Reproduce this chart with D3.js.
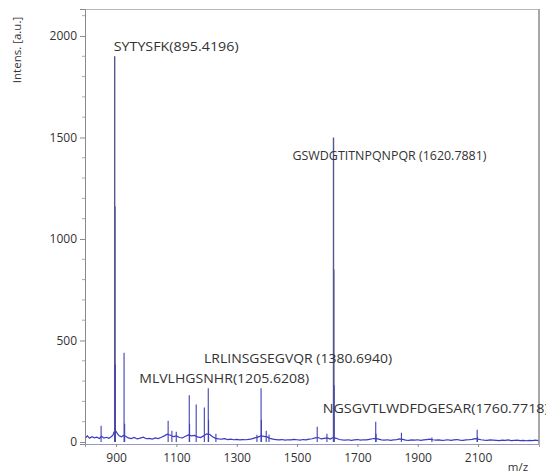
<!DOCTYPE html>
<html>
<head>
<meta charset="utf-8">
<script src="https://cdn.jsdelivr.net/npm/d3@7"></script>
<style>
  html, body { margin: 0; padding: 0; background: #fff; }
  svg { display: block; }
  text { font-family: "Open Sans", "Liberation Sans", sans-serif; fill: #333; }
</style>
</head>
<body>
<svg id="chart" width="546" height="476"></svg>
<script>
// MALDI-TOF spectrum: baseline trace and peak sticks (m/z vs intensity)
const baseMz = [800,805,812,820,828,836,845,852,860,868,876,884,890,893,900,905,910,918,924,932,940,950,960,970,980,990,
  1000,1010,1020,1030,1040,1050,1060,1070,1080,1090,1100,1110,1120,1130,1140,1150,1160,1170,1180,1190,1200,1210,1220,1230,1240,
  1250,1260,1270,1280,1290,1300,1310,1320,1330,1340,1350,1360,1370,1380,1390,1400,1410,1420,1430,1440,1450,1460,1470,1480,1490,
  1500,1510,1520,1530,1540,1550,1560,1570,1580,1590,1600,1610,1620,1630,1640,1650,1660,1670,1680,1690,1700,1710,1720,1730,1740,
  1750,1760,1770,1780,1790,1800,1810,1820,1830,1840,1850,1860,1870,1880,1890,1900,1910,1920,1930,1940,1950,1960,1970,1980,1990,
  2000,2010,2020,2030,2040,2050,2060,2070,2080,2090,2100,2110,2120,2130,2140,2150,2160,2170,2180,2190,2200,2210,2220,2230,2240,
  2250,2260,2270,2280,2290,2300];
const baseInt = [22,30,18,26,20,24,17,28,19,23,18,26,35,48,52,40,30,25,32,28,20,17,22,15,19,24,
  16,18,14,20,17,23,30,38,33,26,30,22,20,28,35,30,32,25,22,30,40,38,26,18,15,
  14,16,12,14,11,13,10,12,11,13,15,20,24,30,28,25,18,14,12,10,12,9,11,10,13,
  11,9,12,10,14,16,20,22,15,18,20,14,22,18,12,10,9,11,8,10,12,9,11,10,13,
  16,18,14,10,9,11,8,10,12,15,13,9,8,10,9,11,8,10,12,14,11,9,10,8,9,
  11,8,10,12,9,8,10,11,13,16,14,11,9,8,10,9,8,7,9,8,10,7,8,9,7,
  8,6,8,7,9,7];

// Peak centroids (m/z) and their intensities
const peakMz  = [850.4, 895.42, 896.42, 897.42, 926.5, 928.5, 1072.6, 1085.0, 1099.5, 1142.6, 1143.6, 1165.6,
  1192.6, 1205.62, 1206.62, 1231.0, 1367.0, 1380.69, 1381.69, 1397.7, 1407.0, 1566.8, 1599.0,
  1620.79, 1621.79, 1622.79, 1760.77, 1761.8, 1845.9, 1947.0, 2097.0, 2098.0];
const peakInt = [80, 1900, 1160, 380, 440, 90, 105, 55, 50, 230, 90, 185,
  170, 265, 110, 40, 35, 265, 110, 55, 35, 75, 40,
  1500, 850, 280, 100, 40, 45, 22, 60, 25];

// Annotated peptides
const annoText = ["SYTYSFK(895.4196)", "GSWDGTITNPQNPQR (1620.7881)", "LRLINSGSEGVQR (1380.6940)",
  "MLVLHGSNHR(1205.6208)", "NGSGVTLWDFDGESAR(1760.7718)"];
const annoMz  = [895.42, 1620.79, 1380.69, 1205.62, 1760.77];
const annoInt = [1930, 1395, 395, 295, 150];

const yTicks = [0, 500, 1000, 1500, 2000];
const xTicks = [900, 1100, 1300, 1500, 1700, 1900, 2100];

(function draw() {
  const svg = d3.select("#chart");
  const mLeft = 85, mRight = 539, mTop = 9, mBottom = 444;

  const x = d3.scaleLinear().domain([797, 2302]).range([mLeft, mRight]);
  const y = d3.scaleLinear().domain([-10, 2133]).range([mBottom, mTop]);

  // frame
  svg.append("line").attr("x1", mLeft).attr("x2", mRight).attr("y1", mTop + 0.5).attr("y2", mTop + 0.5)
    .attr("stroke", "#b8b8b8").attr("stroke-width", 1.2);
  svg.append("line").attr("x1", mRight).attr("x2", mRight).attr("y1", mTop).attr("y2", mBottom)
    .attr("stroke", "#a8a8a8").attr("stroke-width", 2);

  // y axis
  const yAxis = d3.axisLeft(y).tickValues(yTicks).tickSize(5).tickPadding(3).tickFormat(d3.format("d"));
  const gy = svg.append("g").attr("transform", `translate(${mLeft},0)`).call(yAxis);
  gy.select(".domain").attr("stroke", "#8a8a8a");
  gy.selectAll(".tick line").attr("stroke", "#8a8a8a");
  gy.selectAll(".tick text").style("font-size", "12px").style("font-family", "Open Sans, sans-serif").attr("fill", "#333");
  const yMinor = d3.range(0, 2101, 100).filter(v => v % 500 !== 0);
  svg.append("g").selectAll("line").data(yMinor).join("line")
    .attr("x1", mLeft - 3).attr("x2", mLeft).attr("y1", d => y(d)).attr("y2", d => y(d))
    .attr("stroke", "#aaa");

  // x axis
  const xAxis = d3.axisBottom(x).tickValues(xTicks).tickSize(3).tickPadding(6).tickFormat(d3.format("d"));
  const gx = svg.append("g").attr("transform", `translate(0,${mBottom})`).call(xAxis);
  gx.select(".domain").attr("stroke", "#9a9ac0");
  gx.selectAll(".tick line").attr("stroke", "#8a8a8a");
  gx.selectAll(".tick text").style("font-size", "12px").style("font-family", "Open Sans, sans-serif").attr("fill", "#333");

  // axis titles
  svg.append("text").attr("transform", "translate(21,50) rotate(-90)").attr("text-anchor", "middle")
    .style("font-size", "11.5px").text("Intens. [a.u.]");
  svg.append("text").attr("x", 518).attr("y", 471).attr("text-anchor", "middle")
    .style("font-size", "11.5px").text("m/z");

  // baseline trace
  const base = baseMz.map((m, i) => [m, baseInt[i]]);
  svg.append("path").datum(base)
    .attr("d", d3.line().x(d => x(d[0])).y(d => y(d[1])))
    .attr("fill", "none").attr("stroke", "#3a3ac4").attr("stroke-width", 1.2);

  // peak sticks
  svg.append("g").selectAll("line").data(peakMz).join("line")
    .attr("x1", d => x(d)).attr("x2", d => x(d))
    .attr("y1", y(0)).attr("y2", (d, i) => y(peakInt[i]))
    .attr("stroke", (d, i) => peakInt[i] > 500 ? "#55558f" : "#4040b4")
    .attr("stroke-width", (d, i) => peakInt[i] > 500 ? 1.4 : 1.1);

  // peptide annotations (condensed to the label widths of the report layout)
  const annoDx = [-1, -41, -57, -69, -53];
  const annoW = [125, 194, 188, 170, 226];
  svg.append("g").selectAll("text").data(annoText).join("text")
    .attr("x", (d, i) => x(annoMz[i]) + annoDx[i])
    .attr("y", (d, i) => y(annoInt[i]) + 1)
    .attr("textLength", (d, i) => annoW[i])
    .attr("lengthAdjust", "spacingAndGlyphs")
    .style("font-size", "12.5px").attr("fill", "#2a2a2a")
    .text(d => d);
})();
</script>
</body>
</html>
